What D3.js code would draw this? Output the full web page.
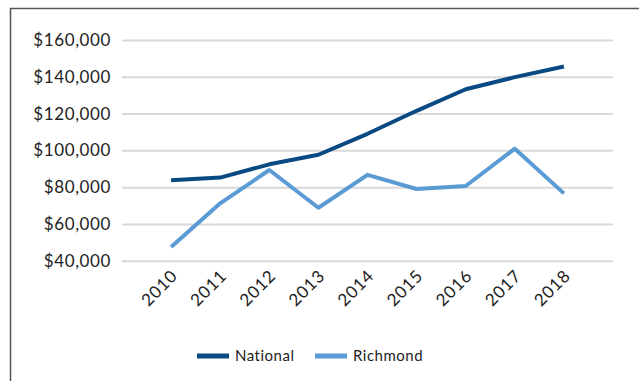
<!DOCTYPE html>
<html>
<head>
<meta charset="utf-8">
<script src="https://cdn.jsdelivr.net/npm/d3@7"></script>
<style>
  body { margin: 0; background: #fff; }
  text { font-family: Lato, sans-serif; fill: #222; }
</style>
</head>
<body>
<script>
const width = 639
const height = 381

const years = ['2010', '2011', '2012', '2013', '2014', '2015', '2016', '2017', '2018']
const national = [83800, 85200, 92400, 97600, 109000, 121500, 133200, 139800, 145600]
const richmond = [47500, 71200, 89300, 68800, 86700, 79000, 80600, 100900, 76600]
const yTicks = [40000, 60000, 80000, 100000, 120000, 140000, 160000]
const seriesNames = ['National', 'Richmond']

const color = d3.scaleOrdinal()
  .domain(seriesNames)
  .range(['#094a82', '#5b9bd5'])

const x = d3.scalePoint().domain(years).range([122, 613]).padding(1)
const y = d3.scaleLinear().domain([40000, 160000]).range([260.7, 40])

const svg = d3.select('body').append('svg').attr('width', width).attr('height', height)

// outer frame (cut off at right / bottom like the source)
svg.append('rect')
  .attr('x', 10.5).attr('y', 8.5)
  .attr('width', 700).attr('height', 500)
  .style('fill', 'none')
  .style('stroke', '#555')
  .attr('stroke-width', 1.5)

// gridlines + y labels
const yAxis = d3.axisLeft(y)
  .tickValues(yTicks)
  .tickSize(-(613 - 122))
  .tickPadding(11)
  .tickFormat(d => '$' + d3.format(',')(d))

svg.append('g')
  .attr('transform', 'translate(122,0)')
  .call(yAxis)
  .call(g => g.select('.domain').remove())
  .call(g => g.selectAll('.tick line').attr('stroke', '#d9d9d9').attr('stroke-width', 2))
  .call(g => g.selectAll('.tick text')
    .style('font-size', '17px')
    .style('letter-spacing', '0.6px')
    .attr('fill', '#222'))

// x labels
const xAxis = d3.axisBottom(x).tickSize(0).tickPadding(0)
svg.append('g')
  .attr('transform', 'translate(0,268)')
  .call(xAxis)
  .call(g => g.select('.domain').remove())
  .call(g => g.selectAll('.tick text')
    .style('font-size', '17px')
    .style('letter-spacing', '0.8px')
    .attr('fill', '#222')
    .attr('text-anchor', 'end')
    .attr('dy', '0.75em')
    .attr('transform', 'translate(-2,0) rotate(-45)'))

// lines
const line = d3.line()
  .x((d, i) => x(years[i]))
  .y(d => y(d))

const series = [
  { name: 'National', values: national },
  { name: 'Richmond', values: richmond }
]

svg.selectAll('path.series')
  .data(series)
  .join('path')
  .attr('class', 'series')
  .attr('d', d => line(d.values))
  .style('fill', 'none')
  .style('stroke', d => color(d.name))
  .attr('stroke-width', 4)
  .attr('stroke-linejoin', 'round')

// legend
const legendX = [197, 315]
const legend = svg.selectAll('g.legend')
  .data(seriesNames)
  .join('g')
  .attr('class', 'legend')
  .attr('transform', (d, i) => `translate(${legendX[i]},356)`)

legend.append('line')
  .attr('x1', 0).attr('x2', 32)
  .style('stroke', d => color(d))
  .attr('stroke-width', 5)

legend.append('text')
  .attr('x', 38)
  .attr('dy', '0.35em')
  .style('font-size', '15px')
  .style('letter-spacing', '0.5px')
  .text(d => d)
</script>
</body>
</html>
